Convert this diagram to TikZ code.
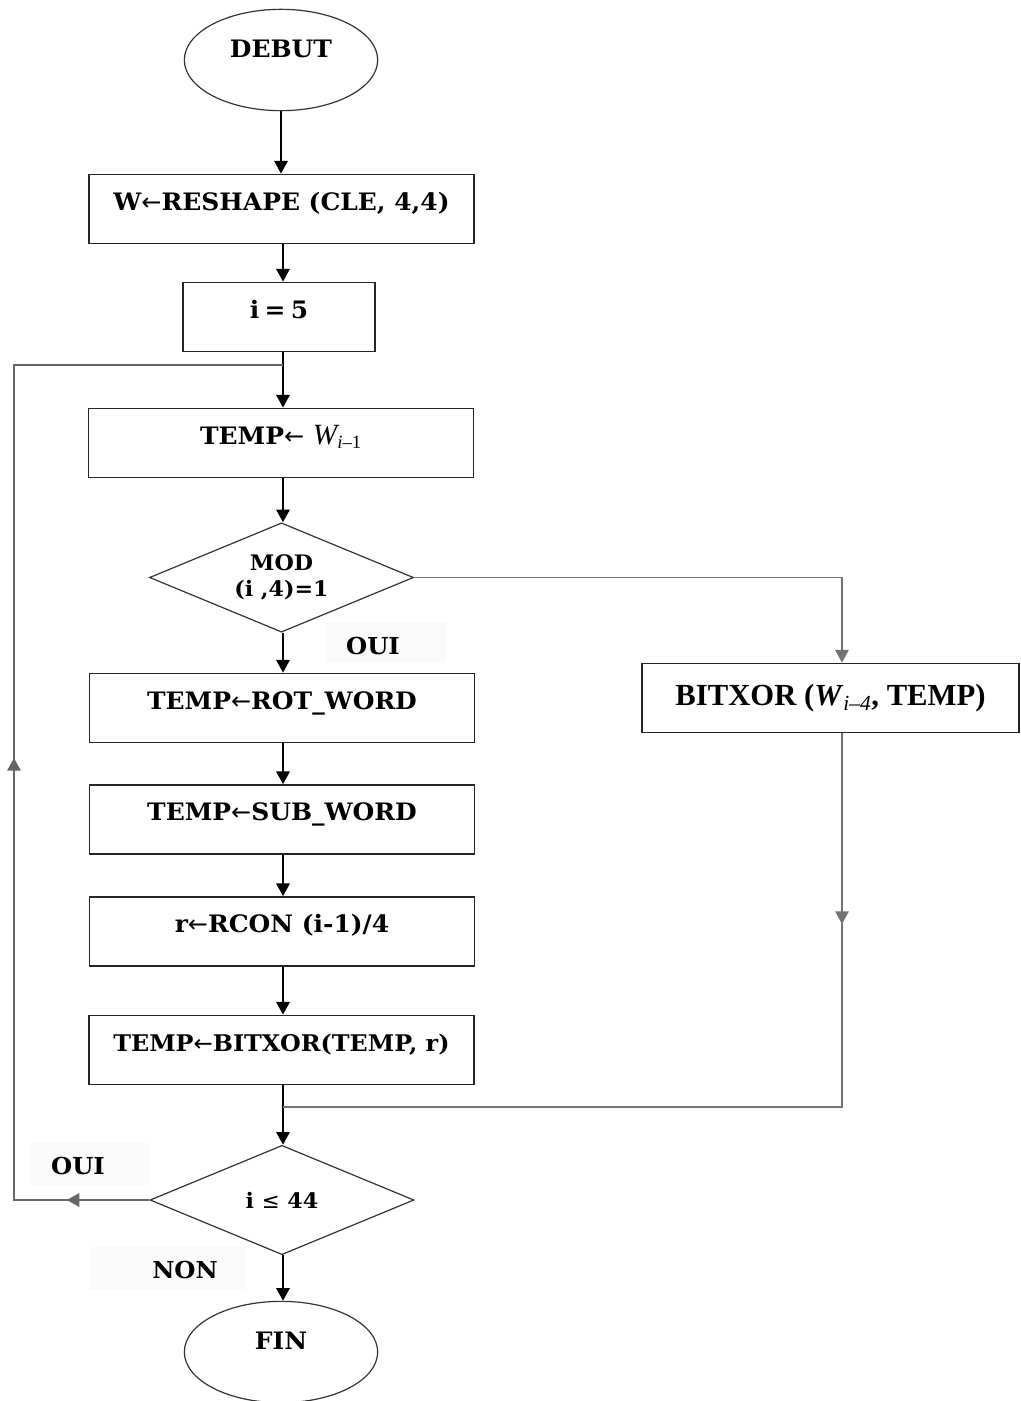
\documentclass[tikz,border=0pt]{standalone}
\usepackage{fontspec}
\setmainfont{DejaVu Serif}[FakeStretch=1.04]
\newfontfamily\tms{Liberation Serif}
\newfontfamily\djs{DejaVu Sans}
\usetikzlibrary{shapes.geometric,arrows.meta,decorations.markings}
\newcommand\larr{{\djs\mdseries ←}}
\newcommand\leqsym{{\djs\mdseries ≤}}
\begin{document}
\begin{tikzpicture}[x=0.75pt,y=-0.75pt,
  >={Triangle[length=9.5pt,width=10pt]},
  every node/.style={font=\bfseries\fontsize{18}{21}\selectfont, inner sep=0pt},
  box/.style={draw=black!85, line width=1.1pt, minimum width=288.75pt, minimum height=52pt,
              text height=12.5pt, text depth=10.5pt},
  oval/.style={ellipse, draw=black!80, line width=0.9pt, minimum width=145pt, minimum height=76pt,
               text height=12.5pt, text depth=16.5pt},
  cond/.style={diamond, draw=black!80, line width=0.9pt, align=center, aspect=2.4,
               minimum width=198pt, minimum height=82pt, font=\bfseries\fontsize{16}{20}\selectfont},
  flow/.style={line width=1.6pt, black, ->},
  side/.style={line width=1.3pt, black!55},
  tag/.style={font=\bfseries\fontsize{17.5}{20}\selectfont},
  pad/.style={fill=black!2}
]
\useasboundingbox (0,0) rectangle (1020,1401);

% faint label backgrounds
\fill[pad] (327,622) rectangle (447,663);
\fill[pad] (30,1143) rectangle (150,1185);
\fill[pad] (90,1247) rectangle (245,1290);

% nodes of the flow chart
\node[oval] (debut) at (281,60) {DEBUT};
\node[box] (reshape) at (281.5,209) {W\larr RESHAPE (CLE, 4,4)};
\node[box, minimum width=144pt] (init) at (279,317) {i\hspace{0.22em}=\hspace{0.22em}5};
\node[box] (temp) at (281,443) {TEMP\larr\ \tms\mdseries\itshape\fontsize{22}{24}\selectfont W\textsubscript{\fontsize{14}{16}\selectfont i\upshape–1}};
\node[cond] (mod) at (281.5,577.5) {MOD\\(i ,4)=1};
\node[box] (rot) at (282,708) {TEMP\larr ROT\_WORD};
\node[box] (sub) at (282,819.5) {TEMP\larr SUB\_WORD};
\node[box] (rcon) at (282,931.5) {r\larr RCON (i-1)/4};
\node[box, font=\bfseries\fontsize{17.2}{20}\selectfont] (xor) at (281.5,1050) {TEMP\larr BITXOR(TEMP, r)};
\node[box, minimum width=282.75pt, text height=16pt, text depth=5pt,
      font=\tms\bfseries\fontsize{23}{26}\selectfont] (xorw) at (830.5,698)
      {BITXOR (\textit{W}\textsubscript{\mdseries\itshape i–4}, TEMP)};
\node[cond] (test) at (282,1200) {i \leqsym\ 44};
\node[oval] (fin) at (281,1352) {FIN};

% branch labels
\node[tag] (oui1) at (373,646) {OUI};
\node[tag] (oui2) at (78,1166) {OUI};
\node[tag] (non) at (185,1270) {NON};

% junction points
\coordinate (jtop) at (283,365);
\coordinate (jbot) at (283,1107);
\coordinate (rtop) at (842,577.5);
\coordinate (rbot) at (842,1107);
\coordinate (lbot) at (14,1200);
\coordinate (ltop) at (14,365);

% main column
\draw[flow] (debut.south) -- (debut.south |- reshape.north);
\draw[flow] (reshape.south -| jtop) -- (jtop |- init.north);
\draw[flow] (init.south -| jtop) -- (jtop |- temp.north);
\draw[flow] (temp.south -| jtop) -- (jtop |- mod.north);
\draw[flow] (mod.south -| jtop) -- (jtop |- rot.north);
\draw[flow] (rot.south -| jtop) -- (jtop |- sub.north);
\draw[flow] (sub.south -| jtop) -- (jtop |- rcon.north);
\draw[flow] (rcon.south -| jtop) -- (jtop |- xor.north);
\draw[flow] (xor.south -| jtop) -- (jtop |- test.north);
\draw[flow] (test.south -| jtop) -- (jtop |- fin.north);

% right branch
\draw[side, ->] (mod.east) -- (rtop) -- (rtop |- xorw.north);
\draw[side, decoration={markings, mark=at position 143pt with {\arrow{>}}}, postaction=decorate]
  (rtop |- xorw.south) -- (rbot) -- (jbot);

% loop back
\draw[side, line width=1.8pt, black!60,
      decoration={markings, mark=at position 62pt with {\arrow{>}},
                            mark=at position 433pt with {\arrow{>}}}, postaction=decorate]
  (test.west) -- (lbot) -- (ltop) -- (jtop);
\end{tikzpicture}
\end{document}
